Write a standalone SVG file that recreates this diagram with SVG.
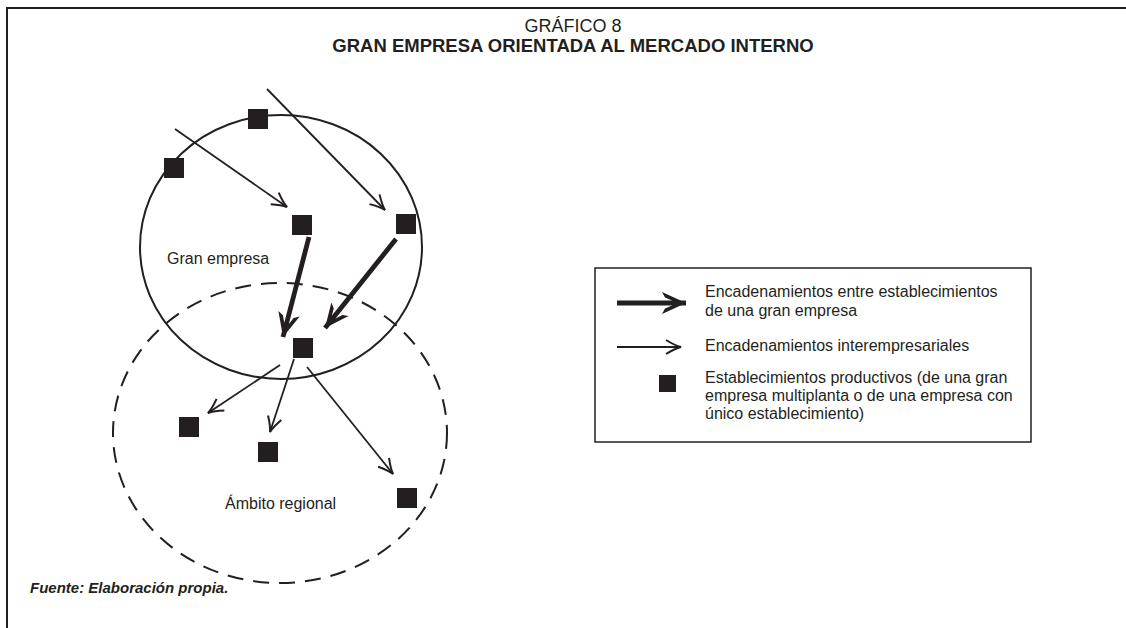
<svg xmlns="http://www.w3.org/2000/svg" width="1126" height="628" viewBox="0 0 1126 628">
<style>
text{font-family:"Liberation Sans",Arial,sans-serif;fill:#231f20}
.t{font-size:16px}
.thin{stroke:#231f20;stroke-width:1.8;fill:none}
.thick{stroke:#231f20;stroke-width:4.8;fill:none}
.sq{fill:#231f20}
</style>
<defs>
<marker id="ah" markerUnits="userSpaceOnUse" viewBox="-18 -9 20 18" refX="0" refY="0" markerWidth="20" markerHeight="18" orient="auto">
<path d="M-15,-7 Q-6,-1.5 0,0 Q-6,1.5 -15,7" fill="none" stroke="#231f20" stroke-width="2"/>
</marker>
<marker id="ahT" markerUnits="userSpaceOnUse" viewBox="-28 -13 30 26" refX="0" refY="0" markerWidth="30" markerHeight="26" orient="auto">
<path d="M0,0 L-24,-11 L-21,-5.5 L-14,-2.4 L-14,2.4 L-21,5.5 L-24,11 Z" fill="#231f20"/>
</marker>
</defs>
<rect width="1126" height="628" fill="#fff"/>
<path d="M7,628 V8 H1126" fill="none" stroke="#231f20" stroke-width="2"/>
<text x="573" y="32" text-anchor="middle" font-size="18">GRÁFICO 8</text>
<text x="573" y="52" text-anchor="middle" font-size="18.5" font-weight="bold">GRAN EMPRESA ORIENTADA AL MERCADO INTERNO</text>

<g id="regions">
<ellipse id="gran-empresa" cx="281" cy="247" rx="141" ry="132" fill="none" stroke="#231f20" stroke-width="2"/>
<ellipse id="ambito-regional" cx="280" cy="433" rx="167" ry="150" fill="none" stroke="#231f20" stroke-width="2" stroke-dasharray="16,10"/>
<text class="t" x="167" y="264">Gran empresa</text>
<text class="t" x="225" y="509">Ámbito regional</text>
</g>

<g id="connectors">
<line class="thin" x1="175" y1="129" x2="287" y2="207" marker-end="url(#ah)"/>
<line class="thin" x1="267" y1="89" x2="385" y2="210" marker-end="url(#ah)"/>
<line class="thick" x1="309" y1="237" x2="283" y2="337" marker-end="url(#ahT)"/>
<line class="thick" x1="396" y1="239" x2="325" y2="328" marker-end="url(#ahT)"/>
<line class="thin" x1="280" y1="365" x2="208" y2="413" marker-end="url(#ah)"/>
<line class="thin" x1="294" y1="359" x2="270" y2="432" marker-end="url(#ah)"/>
<line class="thin" x1="307" y1="367" x2="393" y2="474" marker-end="url(#ah)"/>
</g>

<g id="n1"><rect class="sq" x="248" y="109" width="20" height="20"/></g>
<g id="n2"><rect class="sq" x="164" y="158" width="20" height="20"/></g>
<g id="n3"><rect class="sq" x="292" y="215" width="20" height="20"/></g>
<g id="n4"><rect class="sq" x="396" y="214" width="20" height="20"/></g>
<g id="n5"><rect class="sq" x="293" y="338" width="20" height="20"/></g>
<g id="n6"><rect class="sq" x="179" y="417" width="20" height="20"/></g>
<g id="n7"><rect class="sq" x="258" y="442" width="20" height="20"/></g>
<g id="n8"><rect class="sq" x="397" y="488" width="20" height="20"/></g>

<g id="legend">
<rect x="595" y="268" width="436" height="174" fill="none" stroke="#231f20" stroke-width="1.5"/>
<line class="thick" x1="617" y1="303" x2="686" y2="303" marker-end="url(#ahT)"/>
<line class="thin" x1="617" y1="347" x2="681" y2="347" marker-end="url(#ah)"/>
<rect class="sq" x="659" y="375" width="17" height="17"/>
<text class="t" x="705" y="297">Encadenamientos entre establecimientos</text>
<text class="t" x="705" y="316">de una gran empresa</text>
<text class="t" x="705" y="351">Encadenamientos interempresariales</text>
<text class="t" x="705" y="383">Establecimientos productivos (de una gran</text>
<text class="t" x="705" y="401">empresa multiplanta o de una empresa con</text>
<text class="t" x="705" y="419">único establecimiento)</text>
</g>

<text x="30" y="593" font-size="15" font-weight="bold" font-style="italic">Fuente: Elaboración propia.</text>
</svg>
